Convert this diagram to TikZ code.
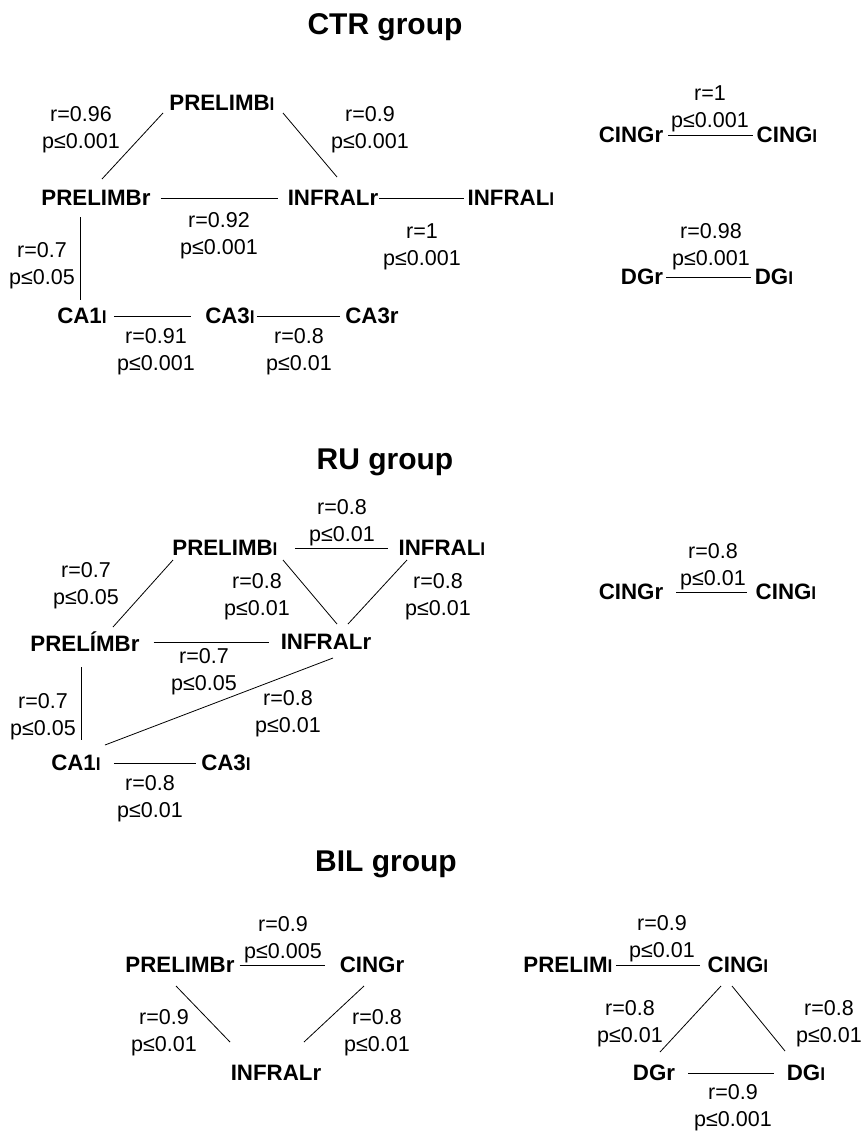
\documentclass[tikz,border=0pt]{standalone}
\usepackage{fontspec}
\setmainfont{Liberation Sans}
\newcommand{\hemi}[1]{{\fontsize{17.5}{17.5}\selectfont #1}}
\tikzset{
  region/.style={font=\bfseries\fontsize{22.3}{22.3}\selectfont, inner sep=0pt},
  stat/.style={font=\fontsize{21.5}{27}\selectfont, align=center, inner sep=0pt},
  grouptitle/.style={font=\bfseries\fontsize{30}{30}\selectfont, inner sep=0pt},
  link/.style={line width=0.8pt}
}

\begin{document}
\begin{tikzpicture}[x=1pt,y=-1pt]
      \useasboundingbox (0,0) rectangle (863,1132);

      % CTR group
      \node[grouptitle] (t-ctr) at (385,27) {CTR group};
      \node[region] (c-pbl) at (222,103) {PRELIMB\hemi{l}};
      \node[region] (c-pbr) at (96,198) {PRELIMBr};
      \node[region] (c-irr) at (333,198) {INFRALr};
      \node[region] (c-irl) at (511,198) {INFRAL\hemi{l}};
      \node[region] (c-ca1l) at (82,316) {CA1\hemi{l}};
      \node[region] (c-ca3l) at (230,316) {CA3\hemi{l}};
      \node[region] (c-ca3r) at (372,316) {CA3r};
      \node[region] (c-cgr) at (631,135) {CINGr};
      \node[region] (c-cgl) at (787,135) {CING\hemi{l}};
      \node[region] (c-dgr) at (642,277) {DGr};
      \node[region] (c-dgl) at (774,277) {DG\hemi{l}};
      \foreach \n/\x/\y/\r/\p in {c-s1/81/130/0.96/0.001, c-s2/370/130/0.9/0.001,
          c-s3/219/236/0.92/0.001, c-s4/422/247/1/0.001, c-s5/42/266/0.7/0.05,
          c-s6/156/352/0.91/0.001, c-s7/299/352/0.8/0.01, c-s8/710/109/1/0.001,
          c-s9/711/247/0.98/0.001}
        \node[stat] (\n) at (\x,\y) {r=\r\\p≤\p};
      \draw[link] ([shift={(-59,10)}]c-pbl.center) -- ([shift={(6,-19)}]c-pbr.center);
      \draw[link] ([shift={(61,10)}]c-pbl.center) -- ([shift={(4,-21)}]c-irr.center);
      \draw[link] ([shift={(-16,19)}]c-pbr.center) -- ([shift={(-2,-16)}]c-ca1l.center);
      \draw[link, shorten <=10pt, shorten >=10pt] (c-pbr) -- (c-irr);
      \draw[link, shorten <=1pt, shorten >=3pt] (c-irr) -- (c-irl);
      \draw[link, shorten <=7pt, shorten >=14pt] (c-ca1l) -- (c-ca3l);
      \draw[link, shorten <=2pt, shorten >=5pt] (c-ca3l) -- (c-ca3r);
      \draw[link, shorten <=5pt, shorten >=4pt] (c-cgr) -- (c-cgl);
      \draw[link, shorten <=3pt, shorten >=4pt] (c-dgr) -- (c-dgl);

      % RU group
      \node[grouptitle] (t-ru) at (385,462) {RU group};
      \node[region] (r-pbl) at (225,548) {PRELIMB\hemi{l}};
      \node[region] (r-irl) at (442,548) {INFRAL\hemi{l}};
      \node[region] (r-pbr) at (85,642) {PRELÍMBr};
      \node[region] (r-irr) at (326,642) {INFRALr};
      \node[region] (r-ca1l) at (76,763) {CA1\hemi{l}};
      \node[region] (r-ca3l) at (226,763) {CA3\hemi{l}};
      \node[region] (r-cgr) at (631,592) {CINGr};
      \node[region] (r-cgl) at (786,592) {CING\hemi{l}};
      \foreach \n/\x/\y/\r/\p in {r-s1/342/523/0.8/0.01, r-s2/86/586/0.7/0.05,
          r-s3/257/597/0.8/0.01, r-s4/438/597/0.8/0.01, r-s5/204/672/0.7/0.05,
          r-s6/43/717/0.7/0.05, r-s7/288/714/0.8/0.01, r-s8/150/799/0.8/0.01,
          r-s9/713/567/0.8/0.01}
        \node[stat] (\n) at (\x,\y) {r=\r\\p≤\p};
      \draw[link, shorten <=17pt, shorten >=10pt] (r-pbl) -- (r-irl);
      \draw[link] ([shift={(-52,12)}]r-pbl.center) -- ([shift={(28,-15)}]r-pbr.center);
      \draw[link] ([shift={(58,12)}]r-pbl.center) -- ([shift={(11,-18)}]r-irr.center);
      \draw[link] ([shift={(-35,12)}]r-irl.center) -- ([shift={(22,-18)}]r-irr.center);
      \draw[link, shorten <=14pt, shorten >=12pt] (r-pbr) -- (r-irr);
      \draw[link] ([shift={(-4,25)}]r-pbr.center) -- ([shift={(5,-23)}]r-ca1l.center);
      \draw[link] ([shift={(7,16)}]r-irr.center) -- ([shift={(29,-18)}]r-ca1l.center);
      \draw[link, shorten <=13pt, shorten >=5pt] (r-ca1l) -- (r-ca3l);
      \draw[link, shorten <=13pt, shorten >=9pt] (r-cgr) -- (r-cgl);

      % BIL group
      \node[grouptitle] (t-bil) at (386,864) {BIL group};
      \node[region] (b-pbr) at (180,965) {PRELIMBr};
      \node[region] (b-cgr) at (372,965) {CINGr};
      \node[region] (b-irr) at (276,1073) {INFRALr};
      \node[region] (b-pml) at (568,965) {PRELIM\hemi{l}};
      \node[region] (b-cgl) at (738,965) {CING\hemi{l}};
      \node[region] (b-dgr) at (654,1073) {DGr};
      \node[region] (b-dgl) at (806,1073) {DG\hemi{l}};
      \foreach \n/\x/\y/\r/\p in {b-s1/283/940/0.9/0.005, b-s2/164/1033/0.9/0.01,
          b-s3/377/1033/0.8/0.01, b-s4/662/939/0.9/0.01, b-s5/630/1024/0.8/0.01,
          b-s6/829/1024/0.8/0.01, b-s7/733/1108/0.9/0.001}
        \node[stat] (\n) at (\x,\y) {r=\r\\p≤\p};
      \draw[link, shorten <=5pt, shorten >=15pt] (b-pbr) -- (b-cgr);
      \draw[link] ([shift={(-4,21)}]b-pbr.center) -- ([shift={(-46,-31)}]b-irr.center);
      \draw[link] ([shift={(-8,21)}]b-cgr.center) -- ([shift={(28,-31)}]b-irr.center);
      \draw[link, shorten <=3pt, shorten >=8pt] (b-pml) -- (b-cgl);
      \draw[link] ([shift={(-17,21)}]b-cgl.center) -- ([shift={(6,-21)}]b-dgr.center);
      \draw[link] ([shift={(-6,21)}]b-cgl.center) -- ([shift={(-21,-22)}]b-dgl.center);
      \draw[link, shorten <=13pt, shorten >=13pt] (b-dgr) -- (b-dgl);

    \end{tikzpicture}
\end{document}
